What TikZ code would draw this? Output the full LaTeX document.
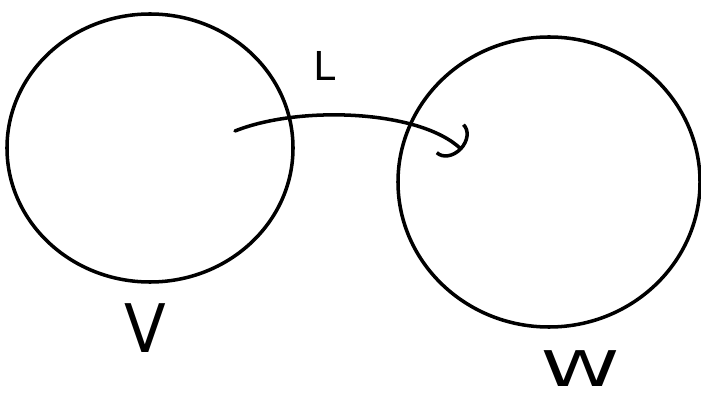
\documentclass[tikz,border=0pt]{standalone}
\usepackage{fontspec}
\setmainfont{DejaVu Sans}
\usetikzlibrary{shapes.geometric,arrows.meta}
\begin{document}
\begin{tikzpicture}[x=0.03cm,y=-0.03cm,
  sketch/.style={line width=3pt,line cap=round,line join=round},
  blob/.style={sketch,draw,ellipse,inner sep=0pt},
  lbl/.style={font=\fontsize{34}{36}\selectfont}]
\useasboundingbox (0,0) rectangle (701,404);
\node[blob,minimum width=8.58cm,minimum height=8.04cm] (V) at (150,148) {};
\node[blob,minimum width=9.06cm,minimum height=8.7cm] (W) at (549,182) {};
\coordinate (s) at (235,131);
\coordinate (e) at (462,150);
\draw[sketch,-{Arc Barb[length=14pt,width=36pt,line width=3pt]}] (s) .. controls (300,105) and (420,110) .. (e);
\node[lbl] (L) at (325,66) {L};
\node[lbl,font=\fontsize{52}{54}\selectfont,yscale=1.1] (Vl) at (145,328) {V};
\node[lbl,font=\fontsize{42}{44}\selectfont,xscale=1.6] (Wl) at (580,369) {W};
\end{tikzpicture}
\end{document}
